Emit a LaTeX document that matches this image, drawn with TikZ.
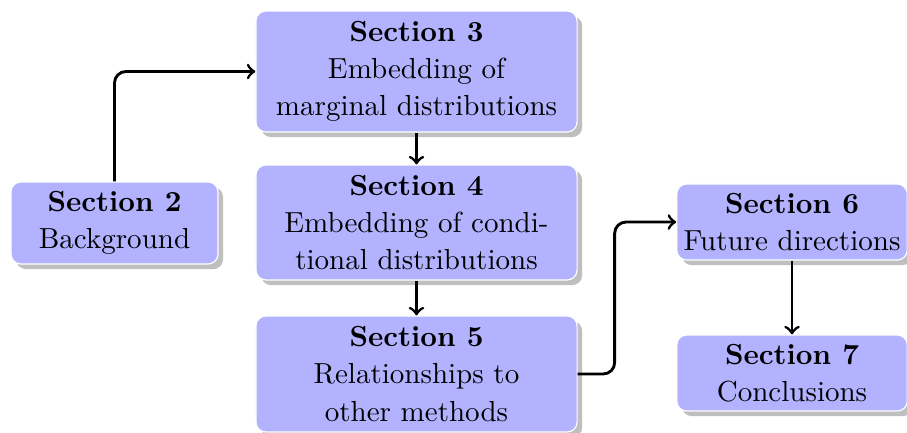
\documentclass[tikz,border=0pt]{standalone}
\usetikzlibrary{shadows,calc}
\begin{document}
\begin{tikzpicture}[x=0.3497pt,y=-0.3497pt,
  secbox/.style={draw=white,line width=0.4pt,fill=blue!30,rounded corners=3.5pt,
    align=center,inner sep=2pt,font=\fontsize{10.15}{13}\selectfont,
    drop shadow={shadow xshift=1.8pt,shadow yshift=-1.8pt,fill=black!25,opacity=1}},
  conn/.style={->,line width=1pt,rounded corners=4pt}]
\useasboundingbox (0,0) rectangle (907,433);
\node[secbox,minimum width=72.4pt,minimum height=28.7pt] (s2) at (114.5,223)
  {\textbf{Section 2}\\Background};
\node[secbox,minimum width=112.3pt,minimum height=42.3pt] (s3) at (416.5,71.5)
  {\textbf{Section 3}\\Embedding of\\marginal distributions};
\node[secbox,minimum width=112.3pt,minimum height=40.2pt] (s4) at (416.5,222.5)
  {\textbf{Section 4}\\Embedding of condi-\\tional distributions};
\node[secbox,minimum width=112.3pt,minimum height=40.6pt] (s5) at (416.5,374)
  {\textbf{Section 5}\\Relationships to\\other methods};
\node[secbox,minimum width=80.6pt,minimum height=26.6pt] (s6) at (792,222)
  {\textbf{Section 6}\\Future directions};
\node[secbox,minimum width=80.6pt,minimum height=26.6pt] (s7) at (792,373)
  {\textbf{Section 7}\\Conclusions};
\draw[conn] (s2.north) |- (s3.west);
\draw[conn] (s3.south) -- (s4.north);
\draw[conn] (s4.south) -- (s5.north);
\draw[conn] (s5.east) -- ++(37,0) |- (s6.west);
\draw[conn] (s6.south) -- (s7.north);
\end{tikzpicture}
\end{document}
